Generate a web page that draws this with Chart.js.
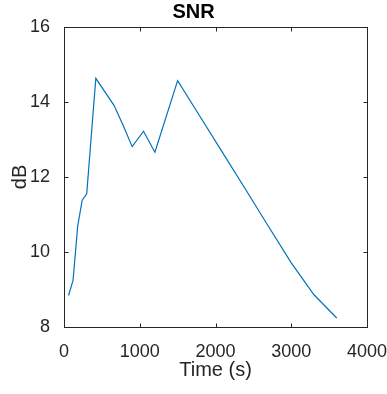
<!DOCTYPE html>
<html>
<head>
<meta charset="utf-8">
<script src="https://cdn.jsdelivr.net/npm/chart.js@4"></script>
<style>
  html, body { margin: 0; padding: 0; background: #ffffff; }
  #wrap { width: 387px; height: 394px; position: relative; }
</style>
</head>
<body>
<div id="wrap"><canvas id="c" width="387" height="394"></canvas></div>
<script>
const titleText = 'SNR';
const xLabel = 'Time (s)';
const yLabel = 'dB';
const timeSeconds = [60, 120, 180, 240, 300, 420, 660, 780, 900, 1050, 1200, 1500, 1800, 2100, 2400, 2700, 3000, 3300, 3600];
const snrDb = [8.84, 9.25, 10.68, 11.38, 11.55, 14.63, 13.91, 13.38, 12.81, 13.22, 12.66, 14.57, 13.60, 12.63, 11.66, 10.68, 9.71, 8.86, 8.24];
const xTicks = [0, 1000, 2000, 3000, 4000];
const yTicks = [8, 10, 12, 14, 16];

const axisColor = '#262626';
const lineColor = '#0072BD';
const FONT = "'Liberation Sans', Arial, Helvetica, sans-serif";

const points = timeSeconds.map((t, i) => ({ x: t, y: snrDb[i] }));

const boxPlugin = {
  id: 'matlabBox',
  afterDatasetsDraw(chart) {
    const { ctx, chartArea: a, scales } = chart;
    ctx.save();
    ctx.strokeStyle = axisColor;
    ctx.lineWidth = 1;
    const L = Math.round(a.left) + 0.5, R = Math.round(a.right) + 0.5;
    const T = Math.round(a.top) + 0.5, B = Math.round(a.bottom) + 0.5;
    ctx.strokeRect(L, T, R - L, B - T);
    const tl = 4;
    ctx.beginPath();
    scales.x.ticks.forEach(t => {
      const px = Math.round(scales.x.getPixelForValue(t.value)) + 0.5;
      ctx.moveTo(px, B); ctx.lineTo(px, B - tl);
      ctx.moveTo(px, T); ctx.lineTo(px, T + tl);
    });
    scales.y.ticks.forEach(t => {
      const py = Math.round(scales.y.getPixelForValue(t.value)) + 0.5;
      ctx.moveTo(L, py); ctx.lineTo(L + tl, py);
      ctx.moveTo(R, py); ctx.lineTo(R - tl, py);
    });
    ctx.stroke();
    ctx.restore();
  }
};

new Chart(document.getElementById('c'), {
  type: 'scatter',
  data: {
    datasets: [{
      data: points,
      showLine: true,
      borderColor: lineColor,
      backgroundColor: lineColor,
      borderWidth: 1.2,
      pointRadius: 0,
      tension: 0,
      fill: false
    }]
  },
  options: {
    responsive: false,
    animation: false,
    devicePixelRatio: 1,
    layout: { padding: { left: 0, right: 0, top: 0, bottom: 0 } },
    plugins: {
      legend: { display: false },
      tooltip: { enabled: false },
      title: {
        display: true,
        text: titleText,
        color: '#000000',
        font: { family: FONT, size: 20, weight: 'bold', lineHeight: 1 },
        padding: { top: 2, bottom: 5 }
      }
    },
    scales: {
      x: {
        type: 'linear',
        min: 0, max: 4000,
        afterBuildTicks(scale) { scale.ticks = xTicks.map(v => ({ value: v })); },
        afterFit(scale) { scale.height = 67; scale.paddingRight = 20; scale.paddingLeft = 0; },
        grid: { display: false },
        border: { display: false },
        ticks: {
          color: axisColor,
          font: { family: FONT, size: 18 },
          padding: 6,
          maxRotation: 0,
          callback: v => String(v)
        },
        title: {
          display: true,
          text: xLabel,
          color: axisColor,
          font: { family: FONT, size: 20, lineHeight: 1.2 },
          padding: { top: 0, bottom: 12 }
        }
      },
      y: {
        type: 'linear',
        min: 8, max: 16,
        afterBuildTicks(scale) { scale.ticks = yTicks.map(v => ({ value: v })); },
        afterFit(scale) { scale.width = 64; },
        grid: { display: false },
        border: { display: false },
        ticks: {
          color: axisColor,
          font: { family: FONT, size: 18 },
          padding: 6,
          callback: v => String(v)
        },
        title: {
          display: true,
          text: yLabel,
          color: axisColor,
          font: { family: FONT, size: 20, lineHeight: 1.2 },
          padding: { top: 8, bottom: 0 }
        }
      }
    }
  },
  plugins: [boxPlugin]
});
</script>
</body>
</html>
